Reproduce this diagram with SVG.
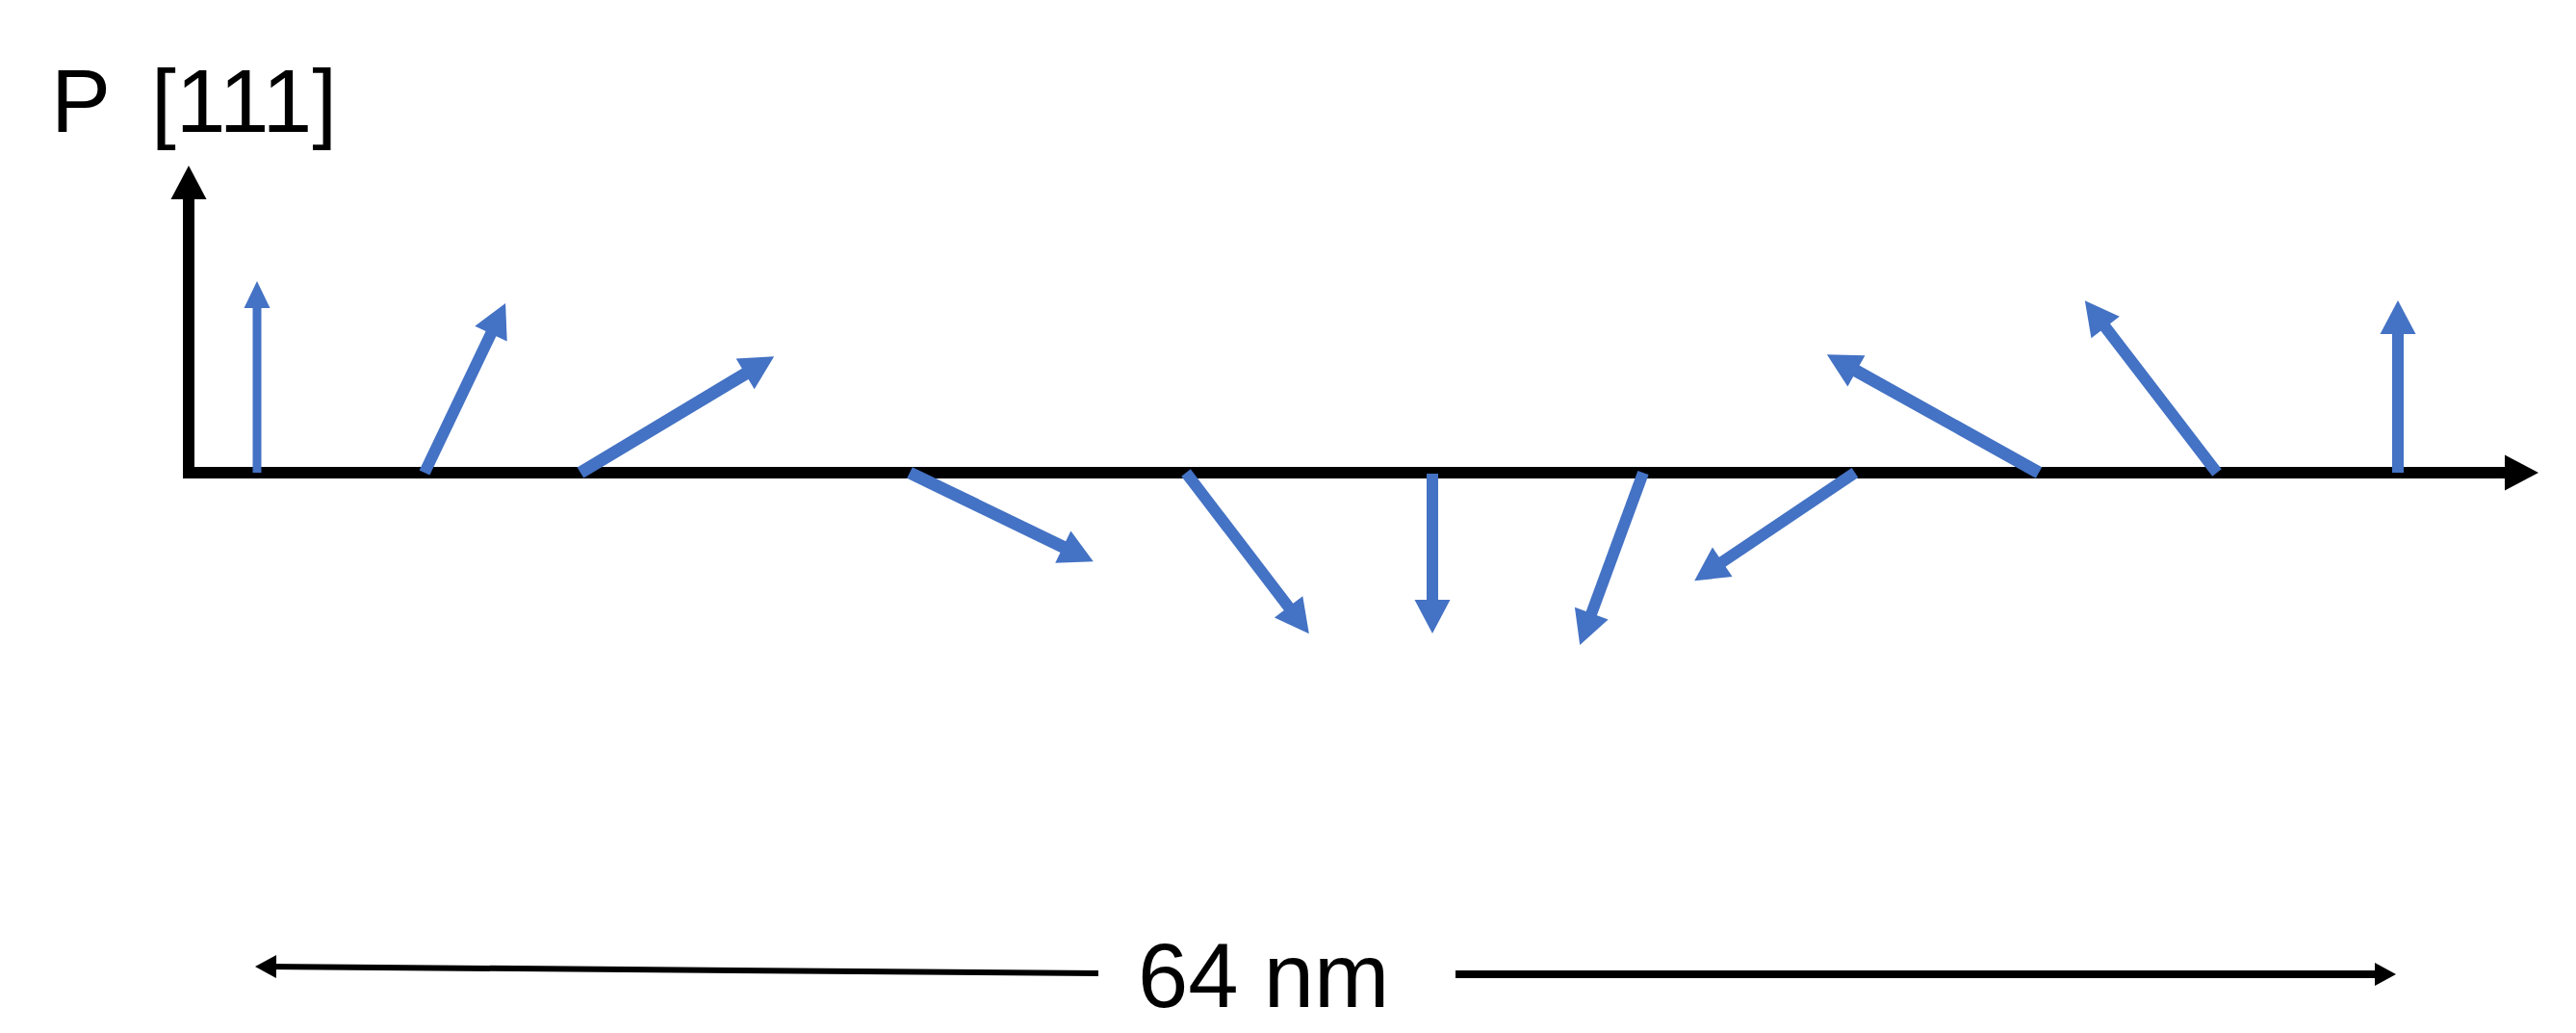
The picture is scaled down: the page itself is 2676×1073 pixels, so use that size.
<svg xmlns="http://www.w3.org/2000/svg" width="2676" height="1073" viewBox="0 0 2676 1073">
<style>
.ax{stroke:#000;stroke-width:12;fill:none}
.bl{stroke:#4472C4;stroke-width:12;fill:none;marker-end:url(#bh)}
.bl.thk{stroke-width:13}
.bl.thn{stroke-width:9;marker-end:url(#bhs)}
.lbl{font-family:"Liberation Sans",Arial,sans-serif;fill:#000}
</style>
<defs>
<marker id="bh" markerUnits="userSpaceOnUse" markerWidth="35" markerHeight="37" refX="15" refY="18.5" orient="auto" overflow="visible"><path d="M0,0 L35,18.5 L0,37 z" fill="#4472C4"/></marker>
<marker id="bhs" markerUnits="userSpaceOnUse" markerWidth="28" markerHeight="27" refX="12" refY="13.5" orient="auto" overflow="visible"><path d="M0,0 L28,13.5 L0,27 z" fill="#4472C4"/></marker>
<marker id="ah" markerUnits="userSpaceOnUse" markerWidth="35" markerHeight="37" refX="15" refY="18.5" orient="auto" overflow="visible"><path d="M0,0 L35,18.5 L0,37 z" fill="#000"/></marker>
<marker id="sh" markerUnits="userSpaceOnUse" markerWidth="22" markerHeight="24" refX="9" refY="12" orient="auto" overflow="visible"><path d="M0,0 L22,12 L0,24 z" fill="#000"/></marker>
</defs>
<rect width="2676" height="1073" fill="#fff"/>
<g id="connectors">
<g id="axes">
<line class="ax" x1="196" y1="497" x2="196" y2="192" marker-end="url(#ah)"/>
<line class="ax" x1="190" y1="491" x2="2617" y2="491" marker-end="url(#ah)"/>
</g>
<g id="polarization">
<line class="bl thn" x1="267" y1="491" x2="267" y2="308"/>
<line class="bl" x1="441" y1="491" x2="516.5" y2="333.1"/>
<line class="bl thk" x1="603" y1="491" x2="787" y2="380.6"/>
<line class="bl thk" x1="945" y1="491" x2="1117.8" y2="574.6"/>
<line class="bl" x1="1232" y1="491" x2="1347.7" y2="642.3"/>
<line class="bl" x1="1488" y1="492" x2="1488" y2="638"/>
<line class="bl" x1="1707" y1="491" x2="1648.1" y2="651.3"/>
<line class="bl" x1="1927" y1="491" x2="1776.8" y2="592.1"/>
<line class="bl thk" x1="2118" y1="491" x2="1915.3" y2="378"/>
<line class="bl" x1="2303" y1="491" x2="2178" y2="328"/>
<line class="bl" x1="2491" y1="491" x2="2491" y2="332"/>
</g>
<g id="scalebar">
<line x1="1141" y1="1011" x2="278" y2="1004" stroke="#000" stroke-width="6" marker-end="url(#sh)"/>
<line x1="1512" y1="1012" x2="2476" y2="1012" stroke="#000" stroke-width="8" marker-end="url(#sh)"/>
</g>
</g>
<g id="axis-label">
<text class="lbl" x="53" y="137" font-size="93">P<tspan x="157">[111]</tspan></text>
</g>
<g id="scale-label">
<text class="lbl" x="1182" y="1046" font-size="94">64 nm</text>
</g>
</svg>
